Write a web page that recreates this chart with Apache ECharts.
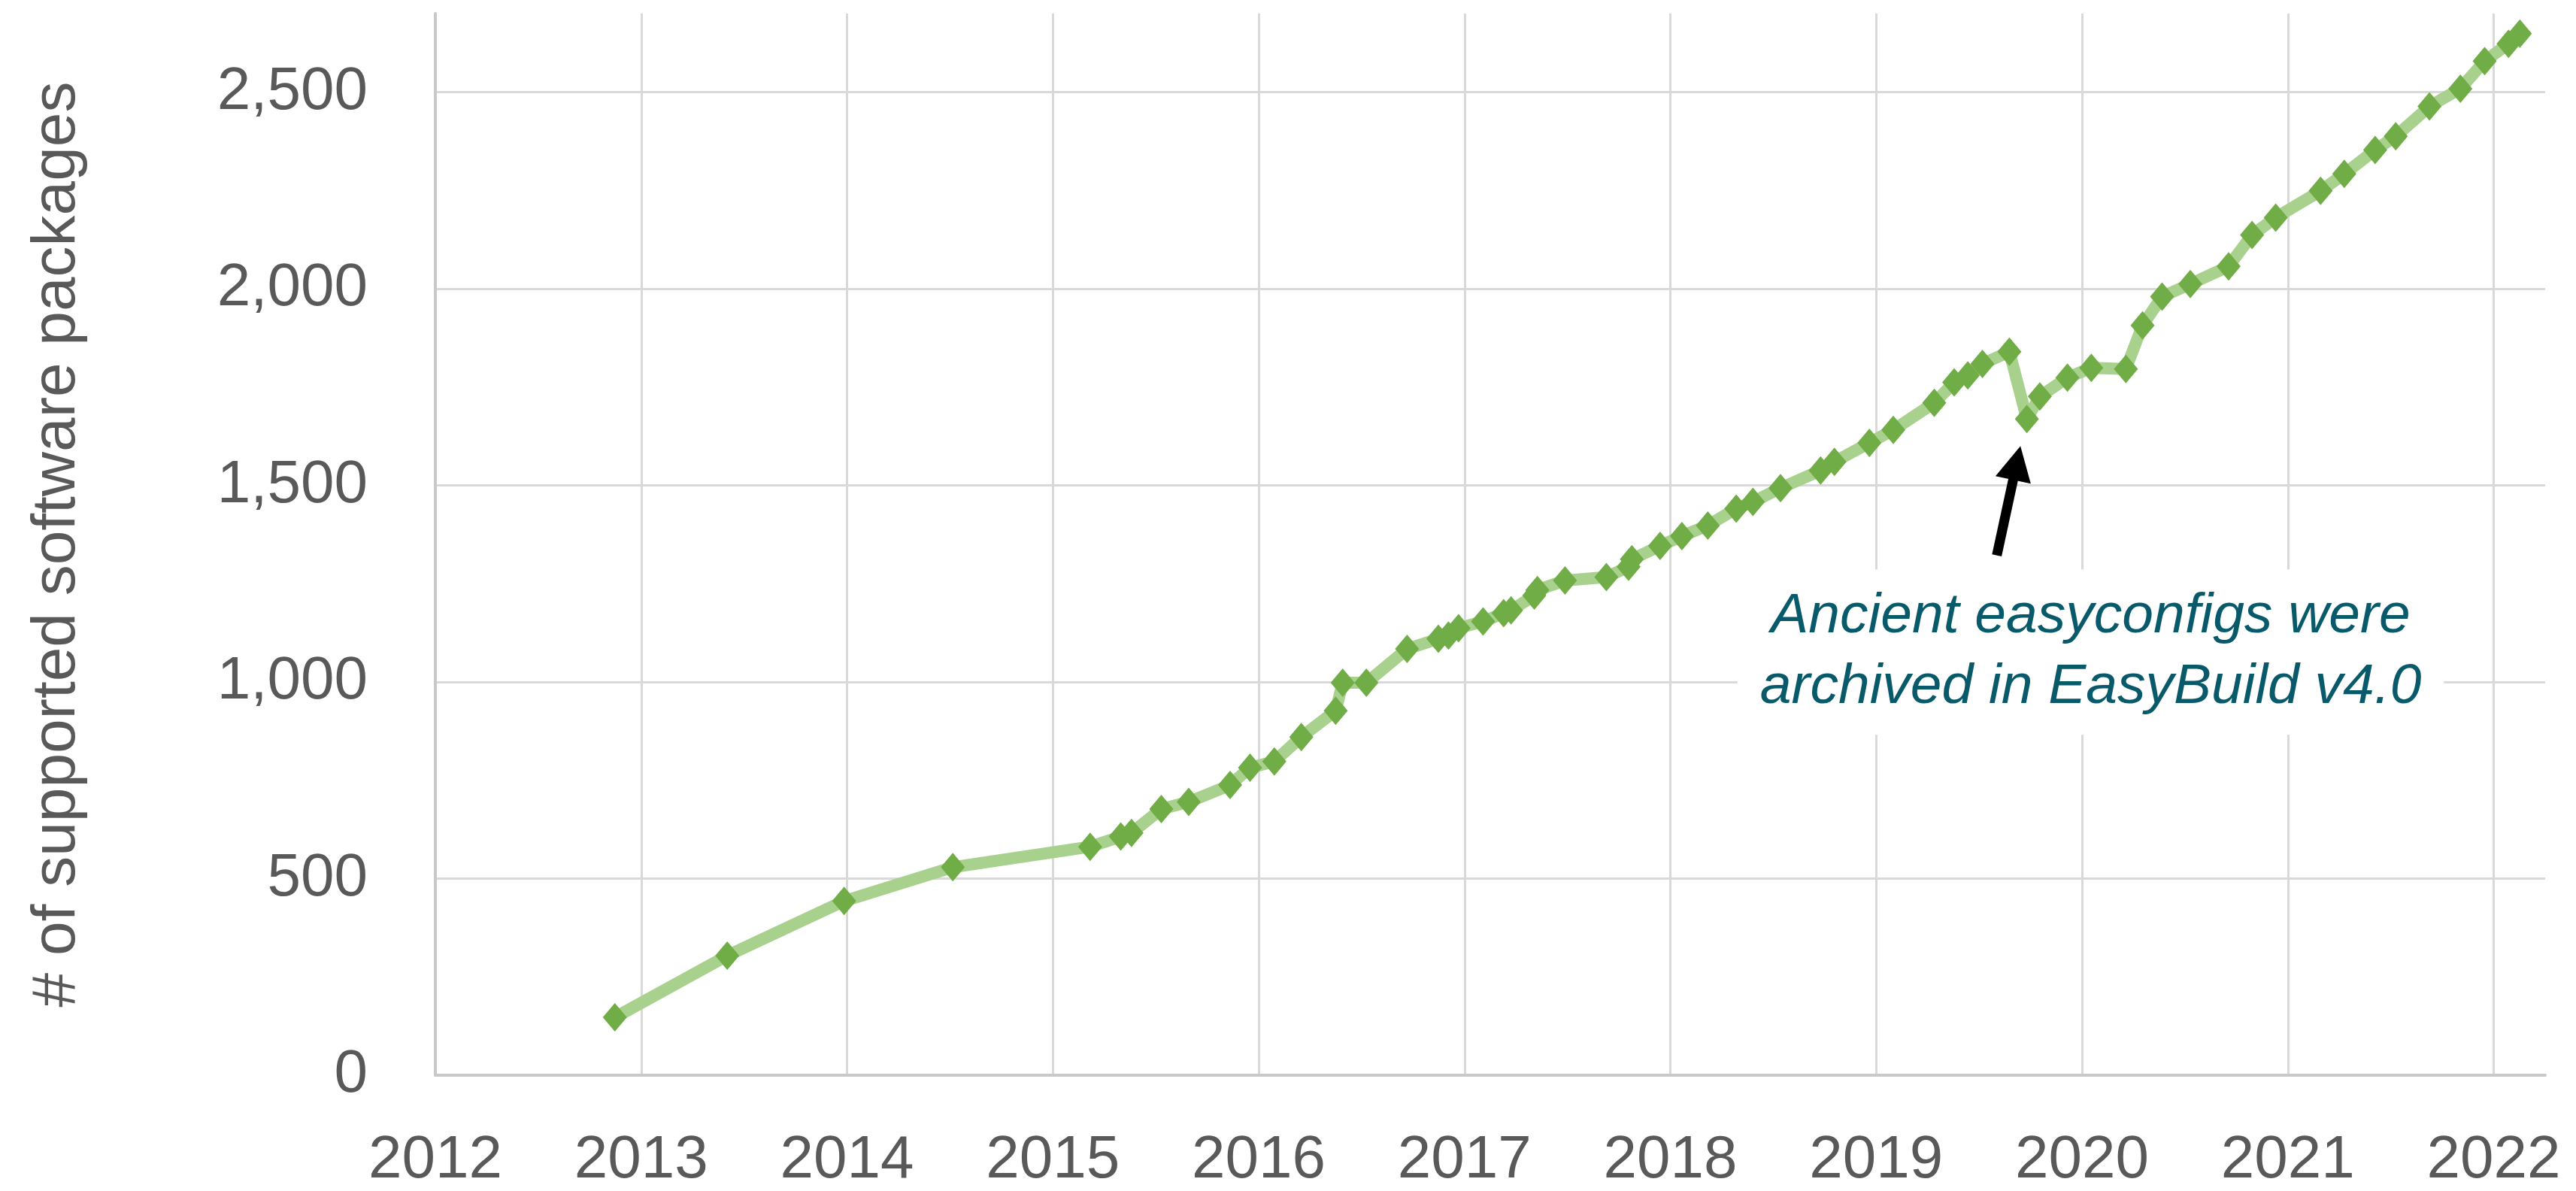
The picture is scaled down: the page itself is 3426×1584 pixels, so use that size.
<!DOCTYPE html>
<html>
<head>
<meta charset="utf-8">
<title>EasyBuild supported software packages</title>
<script src="https://cdn.jsdelivr.net/npm/echarts@6/dist/echarts.min.js"></script>
<style>
    html, body { margin: 0; padding: 0; background: #fff; }
    #chart { width: 3426px; height: 1584px; }
</style>
</head>
<body>
<div id="chart"></div>
<script>
// release dates as decimal years
var releaseDates = [
    2012.872, 2013.418, 2013.986, 2014.514, 2015.181, 2015.330, 2015.382, 2015.527,
    2015.660, 2015.861, 2015.958, 2016.076, 2016.207, 2016.374, 2016.408, 2016.523,
    2016.721, 2016.873, 2016.922, 2016.971, 2017.090, 2017.190, 2017.226, 2017.339,
    2017.354, 2017.488, 2017.689, 2017.797, 2017.813, 2017.950, 2018.056, 2018.182,
    2018.320, 2018.401, 2018.535, 2018.730, 2018.797, 2018.967, 2019.083, 2019.282,
    2019.379, 2019.445, 2019.516, 2019.647, 2019.732, 2019.795, 2019.929, 2020.045,
    2020.213, 2020.294, 2020.389, 2020.526, 2020.712, 2020.826, 2020.941, 2021.159,
    2021.274, 2021.424, 2021.524, 2021.688, 2021.838, 2021.956, 2022.072, 2022.127
];
var packageCounts = [
    147, 304, 443, 529, 581, 607, 616, 677,
    695, 738, 782, 798, 860, 927, 998, 998,
    1084, 1110, 1118, 1137, 1154, 1175, 1182, 1220,
    1234, 1258, 1267, 1293, 1312, 1346, 1371, 1398,
    1441, 1458, 1493, 1538, 1560, 1608, 1641, 1710,
    1762, 1780, 1809, 1840, 1669, 1726, 1774, 1799,
    1796, 1907, 1980, 2012, 2057, 2137, 2181, 2249,
    2292, 2353, 2388, 2464, 2509, 2579, 2623, 2649
];
var yearTicks = [2012, 2013, 2014, 2015, 2016, 2017, 2018, 2019, 2020, 2021, 2022];
var yTicks = [0, 500, 1000, 1500, 2000, 2500];
var noteLines = ['Ancient easyconfigs were', 'archived in EasyBuild v4.0'];

var chart = echarts.init(document.getElementById('chart'));

var points = releaseDates.map(function (d, i) {
    return [d, packageCounts[i]];
});

var labelFont = {
    fontFamily: 'Liberation Sans',
    fontSize: 80,
    color: '#595959'
};

var option = {
    animation: false,
    backgroundColor: '#fff',
    grid: { left: 579, right: 41, top: 18, bottom: 152 },
    xAxis: {
        type: 'value',
        min: yearTicks[0],
        max: 2022.25,
        interval: 1,
        axisLine: { show: true, lineStyle: { color: '#C9C9C9', width: 4 } },
        axisTick: { show: false },
        axisLabel: Object.assign({
            margin: 74,
            showMaxLabel: false,
            formatter: function (v) {
                return yearTicks.indexOf(v) >= 0 ? String(v) : '';
            }
        }, labelFont),
        splitLine: {
            show: true,
            showMinLine: false,
            showMaxLine: false,
            lineStyle: { color: '#D9D9D9', width: 3 }
        }
    },
    yAxis: {
        type: 'value',
        min: 0,
        max: 2700,
        interval: 500,
        name: '# of supported software packages',
        nameLocation: 'middle',
        nameGap: 462,
        nameTextStyle: {
            fontFamily: 'Liberation Sans',
            fontSize: 82,
            color: '#595959'
        },
        axisLine: { show: true, lineStyle: { color: '#C9C9C9', width: 4 } },
        axisTick: { show: false },
        axisLabel: Object.assign({
            margin: 90,
            showMaxLabel: false,
            formatter: function (v) {
                return yTicks.indexOf(v) >= 0 ? v.toLocaleString('en-US') : '';
            }
        }, labelFont),
        splitLine: {
            show: true,
            showMaxLine: false,
            lineStyle: { color: '#D9D9D9', width: 3 }
        }
    },
    series: [
        {
            type: 'line',
            data: points,
            showAllSymbol: true,
            symbol: 'diamond',
            symbolSize: [32, 38],
            itemStyle: { color: '#70AD47' },
            lineStyle: { color: '#A9D18E', width: 16 },
            z: 3,
            // arrow pointing at the v4.0 drop
            markLine: {
                silent: true,
                symbol: ['none', 'triangle'],
                symbolSize: [48, 46],
                label: { show: false },
                lineStyle: { color: '#000', width: 13, type: 'solid' },
                emphasis: { disabled: true },
                data: [[
                    { coord: [2019.586, 1322], symbol: 'none' },
                    { coord: [2019.683, 1557], symbol: 'triangle' }
                ]]
            },
            markPoint: {
                silent: true,
                symbol: 'rect',
                symbolSize: 1,
                itemStyle: { color: 'rgba(0,0,0,0)' },
                label: {
                    show: true,
                    position: 'inside',
                    formatter: noteLines.join('\n'),
                    fontFamily: 'Liberation Sans',
                    fontStyle: 'italic',
                    fontSize: 75,
                    lineHeight: 94,
                    color: '#085A6B',
                    align: 'center',
                    backgroundColor: '#fff',
                    padding: [16, 30]
                },
                data: [{ coord: [2020.042, 1076] }]
            }
        }
    ]
};

chart.setOption(option);
</script>
</body>
</html>
